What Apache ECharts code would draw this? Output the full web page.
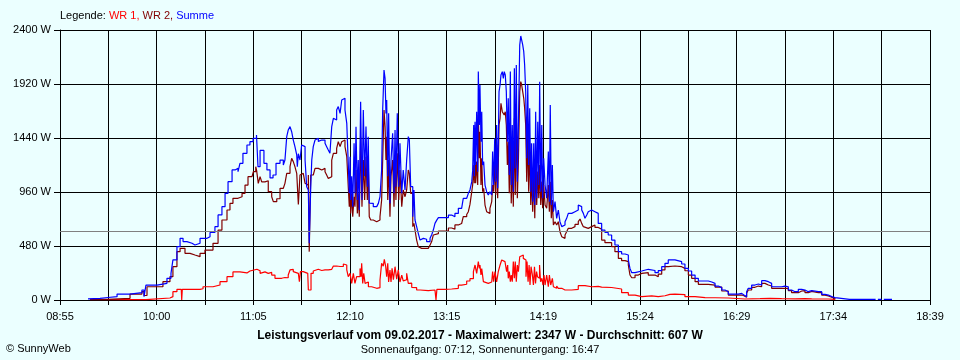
<!DOCTYPE html>
<html>
<head>
<meta charset="utf-8">
<script src="https://cdn.jsdelivr.net/npm/echarts@6/dist/echarts.min.js"></script>
<style>
html,body{margin:0;padding:0;background:#EBFFFF;}
#chart{width:960px;height:360px;}
</style>
</head>
<body>
<div id="chart"></div>
<script>
// x values: minutes after 08:55
const timeLabels = ['08:55','10:00','11:05','12:10','13:15','14:19','15:24','16:29','17:34','18:39'];
const spanMinutes = 584;
const yMax = 2400;
const yStep = 480;
const average = 607;
const maximum = 2347;
const dateText = '09.02.2017';
const sunrise = '07:12';
const sunset = '16:47';

// WR 1 [minutes after 08:55, W]
const wr1Data = [[20.1,3],[57.7,5],[58.4,18],[73.8,30],[75.8,74],[78.5,95],[81.4,95],[81.7,0],[82.1,95],[94.0,100],[96.0,118],[102.7,133],[107.4,163],[112.1,207],[116.1,250],[120.8,241],[125.5,258],[127.5,273],[132.2,273],[133.1,260],[134.3,237],[135.4,250],[137.6,237],[139.8,245],[142.1,222],[144.3,193],[146.5,193],[148.8,200],[151.0,198],[153.2,222],[154.4,267],[155.5,272],[156.6,252],[157.7,237],[160.0,222],[160.7,163],[161.4,252],[163.3,252],[164.5,237],[166.3,222],[166.7,89],[167.8,89],[168.5,237],[170.0,258],[171.2,273],[173.4,262],[175.7,267],[177.9,267],[180.1,262],[181.2,273],[182.4,281],[183.5,302],[185.7,298],[188.0,298],[190.2,320],[191.3,311],[192.5,267],[193.5,207],[194.7,237],[195.8,148],[196.9,237],[198.0,148],[199.1,207],[201.4,281],[202.1,207],[202.5,326],[203.2,148],[203.9,237],[204.8,148],[205.9,160],[207.0,118],[209.2,104],[212.6,110],[214.8,178],[215.9,326],[217.0,300],[217.7,361],[218.6,300],[219.3,207],[220.0,326],[220.6,160],[221.5,267],[222.2,160],[222.9,281],[223.8,180],[224.9,296],[226.0,185],[227.1,267],[228.2,160],[229.4,222],[230.4,170],[231.6,180],[232.7,237],[233.8,148],[235.0,150],[236.1,113],[237.2,110],[239.4,89],[241.7,83],[247.2,89],[251.7,89],[252.4,0],[253.0,95],[258.4,98],[262.9,104],[267.4,133],[269.6,140],[273.0,169],[275.2,190],[277.5,252],[278.6,311],[279.7,237],[280.8,341],[281.5,280],[281.9,311],[282.6,222],[283.1,280],[284.2,163],[285.3,148],[287.5,160],[289.8,163],[290.4,252],[291.1,163],[292.0,252],[293.1,160],[294.2,252],[295.4,311],[296.5,356],[297.6,341],[298.7,326],[299.8,252],[300.5,311],[300.9,193],[301.6,252],[302.3,163],[302.9,222],[303.6,163],[304.3,341],[305.0,193],[305.6,341],[306.3,163],[307.0,311],[307.7,252],[308.6,385],[309.9,400],[311.0,370],[312.2,356],[312.8,207],[313.5,341],[314.2,163],[314.9,311],[315.5,133],[316.2,296],[317.1,222],[317.8,133],[318.5,296],[319.2,148],[319.9,252],[320.5,207],[321.2,193],[321.9,311],[322.6,163],[323.5,193],[324.2,133],[324.9,222],[325.6,133],[326.7,222],[327.8,118],[328.5,222],[329.4,133],[330.5,193],[331.2,118],[332.3,104],[333.4,124],[334.5,104],[336.8,89],[339.0,89],[343.5,95],[347.9,127],[352.4,118],[356.9,121],[361.3,115],[363.6,111],[370.3,98],[377.0,65],[381.5,44],[386.0,30],[390.5,36],[397.2,30],[401.6,38],[406.1,50],[409.4,53],[412.8,48],[419.5,30],[426.3,21],[433.0,20],[439.7,18],[448.6,9],[459.8,12],[469.9,15],[476.6,12],[484.4,10],[493.4,12],[500.1,10],[504.6,9],[515.8,6],[520.2,3]];

// WR 2 [minutes after 08:55, W]
const wr2Data = [[20.1,5],[32.2,15],[47.0,53],[55.0,74],[56.4,40],[58.4,118],[69.1,163],[73.8,207],[75.8,296],[78.5,430],[80.6,459],[83.9,415],[87.3,400],[90.6,385],[94.0,415],[97.3,444],[100.7,444],[102.7,504],[106.1,622],[108.7,711],[112.1,800],[114.1,859],[116.1,904],[119.5,918],[122.2,948],[124.2,1022],[126.2,1096],[128.9,1111],[129.8,1141],[131.4,1185],[132.0,1150],[133.1,1037],[134.3,1096],[135.4,1050],[137.6,1060],[139.8,963],[142.1,918],[143.2,874],[145.5,900],[147.7,993],[149.9,990],[151.0,1037],[152.2,1126],[154.4,1185],[155.5,1259],[156.6,1230],[157.7,1185],[158.9,1126],[160.0,850],[161.1,1111],[162.2,1126],[163.3,1111],[164.5,1037],[165.6,1020],[166.7,1111],[167.3,430],[168.3,1111],[170.0,1126],[171.2,1170],[173.4,1156],[175.7,1170],[177.9,1141],[179.0,1111],[180.1,1081],[181.2,1096],[182.4,1244],[183.5,1304],[185.7,1348],[186.8,1407],[188.0,1363],[189.1,1407],[190.2,1422],[191.3,1363],[192.5,1274],[193.5,1007],[194.2,830],[194.7,1000],[195.1,770],[195.8,948],[196.5,741],[197.4,918],[198.0,830],[198.7,1156],[199.6,770],[200.2,948],[200.9,741],[201.8,1452],[202.7,830],[203.6,1244],[204.5,889],[205.4,1274],[206.3,889],[206.9,1244],[207.6,741],[208.6,711],[210.3,696],[212.6,681],[213.7,711],[214.8,741],[215.9,889],[216.6,1244],[217.5,1689],[218.2,1541],[218.8,1244],[219.3,1452],[220.0,889],[220.6,1244],[221.5,741],[222.2,1100],[223.3,1244],[224.2,830],[224.9,1244],[225.5,889],[226.4,1304],[227.4,889],[228.2,1156],[229.4,830],[230.4,978],[231.6,918],[232.7,978],[233.8,1156],[234.5,1126],[235.4,948],[236.8,652],[237.6,681],[238.3,622],[239.4,533],[240.5,474],[241.7,459],[242.8,444],[243.9,459],[245.0,444],[246.1,459],[247.2,474],[248.4,489],[249.5,519],[250.6,578],[251.7,590],[254.0,613],[258.4,613],[260.7,640],[262.9,630],[265.1,667],[267.4,680],[269.6,696],[270.7,741],[273.0,760],[274.1,785],[275.2,850],[276.4,963],[277.0,1022],[277.7,1200],[278.1,1037],[278.6,1526],[279.0,1037],[279.7,1230],[280.4,1022],[280.8,1644],[281.5,1260],[281.9,1496],[282.6,1022],[283.1,1260],[283.7,963],[284.4,993],[285.3,844],[286.4,785],[287.5,770],[288.6,815],[289.8,874],[290.4,1022],[291.1,963],[291.8,1230],[292.5,933],[293.1,1378],[293.8,904],[294.7,1556],[295.4,1615],[296.0,1748],[296.9,1674],[297.6,1689],[298.2,1644],[298.9,1674],[299.6,1556],[300.3,1200],[300.9,1407],[301.6,948],[302.3,1556],[302.9,859],[303.6,1230],[304.3,830],[305.0,1615],[305.6,933],[306.3,1674],[307.0,904],[307.7,1230],[308.6,1852],[309.3,1941],[309.9,1911],[310.6,1852],[311.3,1793],[311.9,1704],[312.6,1556],[313.3,1052],[314.0,1496],[314.6,963],[315.3,1393],[316.0,844],[316.6,1111],[317.3,785],[318.0,1141],[318.7,726],[319.3,1244],[320.0,844],[320.7,1141],[321.4,904],[322.0,1200],[322.7,844],[323.4,1052],[324.0,815],[324.7,1022],[325.6,844],[326.7,815],[327.8,1022],[328.5,785],[329.1,1052],[329.8,726],[330.5,889],[331.2,667],[332.3,696],[333.4,667],[334.5,696],[335.6,607],[336.8,563],[337.8,548],[339.0,578],[340.1,607],[341.2,637],[343.5,652],[345.7,672],[347.9,696],[349.1,720],[350.2,681],[351.3,652],[352.4,637],[354.6,652],[356.9,667],[359.1,645],[361.3,630],[363.6,533],[365.8,510],[368.0,510],[370.3,474],[372.5,430],[374.8,370],[377.0,350],[379.3,341],[381.5,311],[382.6,222],[383.8,198],[386.0,222],[388.2,237],[390.5,243],[394.9,222],[399.4,207],[401.6,230],[403.9,267],[406.1,296],[408.3,302],[412.8,296],[417.3,281],[419.5,260],[421.8,222],[424.0,193],[426.3,163],[428.5,139],[435.2,133],[439.7,115],[444.2,80],[448.6,44],[457.6,38],[459.1,24],[460.9,59],[462.0,89],[464.3,113],[466.5,124],[468.8,118],[471.0,148],[473.2,133],[475.5,124],[477.7,104],[482.2,104],[486.7,104],[488.9,83],[491.1,65],[493.4,65],[495.6,80],[497.9,83],[500.1,65],[502.3,77],[504.6,65],[509.1,68],[511.3,44],[513.5,36],[515.8,24],[518.0,15],[520.2,5]];

// Summe [minutes after 08:55, W]
const sumData = [[18.8,10],[20.1,15],[26.9,22],[32.2,30],[38.3,53],[47.0,65],[55.0,89],[56.4,30],[57.7,133],[65.1,148],[71.8,193],[74.5,237],[75.8,356],[78.5,474],[80.6,548],[82.6,519],[85.2,504],[88.6,489],[90.6,504],[94.0,548],[98.7,563],[100.7,600],[104.0,652],[106.1,756],[108.7,830],[110.8,948],[112.8,1052],[115.5,1156],[117.5,1170],[119.5,1141],[120.8,1215],[122.8,1304],[125.5,1378],[127.5,1407],[129.6,1437],[131.9,1467],[132.9,1185],[134.3,1330],[135.6,1330],[136.9,1215],[138.9,1156],[141.0,1085],[143.0,1111],[145.0,1215],[147.7,1244],[149.9,1200],[151.0,1244],[152.2,1452],[153.2,1511],[154.4,1541],[155.5,1496],[156.6,1422],[157.7,1363],[158.9,1290],[159.3,1185],[160.0,1300],[161.1,1244],[162.2,1378],[163.3,1363],[164.5,1244],[165.6,1007],[166.7,978],[167.3,504],[168.3,1000],[169.0,1244],[170.0,1363],[171.2,1422],[172.3,1437],[173.4,1410],[174.5,1422],[175.7,1410],[176.7,1422],[177.9,1393],[179.0,1363],[180.1,1333],[181.2,1304],[182.4,1541],[183.5,1615],[184.6,1600],[185.7,1689],[186.8,1719],[188.0,1659],[189.1,1778],[190.2,1793],[191.3,1689],[192.5,1570],[193.5,1215],[194.2,948],[194.7,1274],[195.1,889],[195.8,1100],[196.5,830],[197.4,1393],[198.0,948],[198.7,1541],[199.6,889],[200.2,1244],[200.9,800],[201.8,1763],[202.7,889],[203.6,1689],[204.5,1100],[205.4,1541],[206.3,1007],[206.9,1452],[207.6,860],[208.6,859],[210.3,830],[212.6,815],[213.7,859],[214.8,918],[215.9,1156],[216.6,1689],[217.5,2044],[218.2,1970],[218.8,1659],[219.3,1778],[220.0,1100],[220.6,1659],[221.5,859],[222.2,1244],[223.3,1481],[224.2,948],[224.9,1511],[225.5,1007],[226.4,1659],[227.4,1007],[228.2,1393],[229.4,948],[230.4,1156],[231.6,978],[232.7,1244],[233.8,1452],[234.5,1422],[235.4,1007],[236.8,741],[237.6,978],[238.3,711],[239.4,652],[240.5,593],[241.7,533],[242.8,548],[243.9,533],[245.0,540],[246.1,519],[248.4,548],[249.5,580],[250.6,622],[251.7,681],[252.9,710],[254.0,732],[258.4,732],[260.7,755],[262.9,740],[265.1,770],[267.4,815],[269.6,830],[270.7,904],[273.0,904],[274.1,948],[275.2,978],[276.4,1052],[277.0,1150],[277.7,1556],[278.1,1100],[278.6,1585],[279.0,1200],[279.7,1674],[280.4,1140],[280.8,2030],[281.5,1556],[281.9,1911],[282.6,1407],[283.1,1674],[283.7,1200],[284.4,1230],[285.3,1022],[286.4,963],[287.5,933],[288.6,963],[289.8,933],[290.4,1319],[291.1,1022],[291.8,1437],[292.5,1052],[293.1,1556],[293.8,993],[294.7,1852],[295.4,1911],[296.0,2000],[296.9,2030],[297.6,1970],[298.2,2030],[298.9,2000],[299.6,1852],[300.3,1407],[300.9,1793],[301.6,1111],[302.3,2030],[302.9,1022],[303.6,1556],[304.3,963],[305.0,2059],[305.6,1170],[306.3,2089],[307.0,1052],[307.7,1556],[308.6,2267],[309.3,2347],[309.9,2341],[310.6,2267],[311.3,2207],[311.9,2089],[312.6,1852],[313.3,1259],[314.0,1911],[314.6,1200],[315.3,1704],[316.0,963],[316.6,1393],[317.3,874],[318.0,1393],[318.7,844],[319.3,1674],[320.0,904],[320.7,1585],[321.4,1022],[322.0,1941],[322.7,963],[323.4,1556],[324.0,904],[324.7,1259],[325.6,1022],[326.7,904],[327.8,1319],[328.5,874],[329.1,1733],[329.8,844],[330.5,1200],[331.2,785],[332.3,874],[333.4,726],[334.5,800],[335.6,696],[336.8,652],[337.8,667],[339.0,696],[340.1,726],[341.2,770],[343.5,785],[345.7,800],[347.9,844],[349.1,830],[350.2,800],[351.3,770],[352.4,726],[353.6,755],[354.6,785],[355.8,800],[356.9,815],[358.0,785],[359.1,770],[361.3,681],[363.6,622],[365.8,600],[368.0,578],[370.3,533],[372.5,489],[374.8,430],[377.0,409],[379.3,400],[381.5,356],[382.6,281],[383.8,243],[386.0,258],[390.5,273],[394.9,262],[399.4,243],[401.6,262],[403.9,296],[406.1,326],[408.3,356],[412.8,341],[417.3,320],[419.5,281],[421.8,258],[424.0,222],[426.3,193],[428.5,169],[435.2,160],[437.5,148],[439.7,124],[441.9,110],[444.2,89],[446.4,74],[448.6,53],[455.3,59],[457.6,44],[459.1,30],[460.9,74],[462.0,104],[464.3,133],[466.5,142],[468.8,133],[471.0,172],[473.2,163],[475.5,148],[477.7,118],[482.2,118],[484.4,124],[486.7,118],[488.9,89],[491.1,74],[493.4,74],[495.6,95],[497.9,89],[500.1,74],[502.3,83],[504.6,74],[509.1,74],[511.3,50],[513.5,44],[515.8,30],[518.0,21],[520.2,6],[530,6],[540,6],[547,6],[547.5,null],[549,6],[551,6],[551.5,null],[553,6],[558.5,6]];

const xStep = spanMinutes / 18;
const font = 'Liberation Sans, Arial, sans-serif';

const chart = echarts.init(document.getElementById('chart'), null, {renderer: 'canvas'});
chart.setOption({
  animation: false,
  backgroundColor: '#EBFFFF',
  textStyle: {fontFamily: font},
  title: [
    {
      left: 60, top: 10, padding: 0,
      text: '{k|Legende: }{a|WR 1, }{b|WR 2, }{c|Summe}',
      textStyle: {
        fontSize: 11, fontWeight: 'normal',
        rich: {
          k: {color: '#000', fontSize: 11, fontFamily: font},
          a: {color: '#FF0000', fontSize: 11, fontFamily: font},
          b: {color: '#800000', fontSize: 11, fontFamily: font},
          c: {color: '#0000FF', fontSize: 11, fontFamily: font}
        }
      }
    },
    {
      left: 'center', top: 330, padding: 0,
      text: 'Leistungsverlauf vom ' + dateText + ' - Maximalwert: ' + maximum + ' W - Durchschnitt: ' + average + ' W',
      textStyle: {fontSize: 12, fontWeight: 'bold', color: '#000', fontFamily: font}
    },
    {
      left: 'center', top: 344, padding: 0,
      text: 'Sonnenaufgang: ' + sunrise + ', Sonnenuntergang: ' + sunset,
      textStyle: {fontSize: 11, fontWeight: 'normal', color: '#000', fontFamily: font}
    },
    {
      left: 6, top: 343, padding: 0,
      text: '\u00A9 SunnyWeb',
      textStyle: {fontSize: 11, fontWeight: 'normal', color: '#000', fontFamily: font}
    }
  ],
  grid: {left: 60, right: 30, top: 30, bottom: 60, containLabel: false},
  xAxis: {
    type: 'value', min: 0, max: spanMinutes, interval: xStep,
    axisLine: {show: true, lineStyle: {color: '#000', width: 1}},
    axisTick: {show: true, length: 5, lineStyle: {color: '#000'}},
    splitLine: {show: true, lineStyle: {color: '#000', width: 1}},
    axisLabel: {
      color: '#000', fontSize: 11, margin: 11, fontFamily: font,
      formatter: function (v) {
        const k = Math.round(v / xStep);
        return k % 2 === 0 ? (timeLabels[k / 2] || '') : '';
      }
    }
  },
  yAxis: {
    type: 'value', min: 0, max: yMax, interval: yStep,
    axisLine: {show: true, lineStyle: {color: '#000', width: 1}},
    axisTick: {show: true, length: 6, lineStyle: {color: '#000'}},
    splitLine: {show: true, lineStyle: {color: '#000', width: 1}},
    axisLabel: {
      color: '#000', fontSize: 11, margin: 9, fontFamily: font,
      formatter: function (v) { return String(Math.round(v)) + ' W'; }
    }
  },
  series: [
    {
      name: 'WR 1', type: 'line', data: wr1Data, showSymbol: false, step: 'end',
      lineStyle: {color: '#FF0000', width: 1.2}, itemStyle: {color: '#FF0000'},
      markLine: {
        silent: true, symbol: 'none', label: {show: false},
        lineStyle: {color: '#808080', type: 'solid', width: 1},
        data: [{yAxis: average}]
      }
    },
    {
      name: 'WR 2', type: 'line', data: wr2Data, showSymbol: false, step: 'end',
      lineStyle: {color: '#800000', width: 1.2}, itemStyle: {color: '#800000'}
    },
    {
      name: 'Summe', type: 'line', data: sumData, showSymbol: false, step: 'end', connectNulls: false,
      lineStyle: {color: '#0000FF', width: 1.2}, itemStyle: {color: '#0000FF'}
    }
  ]
});
</script>
</body>
</html>
